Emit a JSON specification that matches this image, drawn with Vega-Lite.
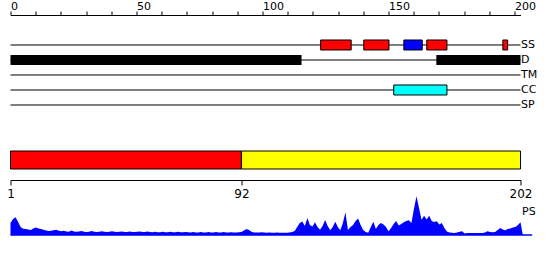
{
  "$schema": "https://vega.github.io/schema/vega-lite/v6.json",
  "autosize": {"type": "pad"},
  "padding": {"left": 6.5, "top": 0, "right": 0, "bottom": 0},
  "bounds": "flush",
  "spacing": 35,
  "resolve": {"scale": {"fill": "independent"}},
  "config": {
    "view": {"stroke": null},
    "axis": {"grid": false, "labelFont": "DejaVu Sans", "titleFont": "DejaVu Sans", "labelColor": "#000", "titleColor": "#000", "domainColor": "#000", "tickColor": "#000"}
  },
  "vconcat": [
    {
      "width": 510,
      "height": 100,
      "data": {"values": [
        {"track": "SS", "start": 0, "end": 202.4, "kind": "line"},
        {"track": "D", "start": 0, "end": 202.4, "kind": "line"},
        {"track": "TM", "start": 0, "end": 202.4, "kind": "line"},
        {"track": "CC", "start": 0, "end": 202.4, "kind": "line"},
        {"track": "SP", "start": 0, "end": 202.4, "kind": "line"},
        {"track": "D", "start": 0, "end": 115.5, "kind": "disorder"},
        {"track": "D", "start": 169, "end": 202.4, "kind": "disorder"},
        {"track": "SS", "start": 123.1, "end": 135.2, "kind": "helix"},
        {"track": "SS", "start": 140.2, "end": 150.2, "kind": "helix"},
        {"track": "SS", "start": 156.1, "end": 163.4, "kind": "strand"},
        {"track": "SS", "start": 165.2, "end": 173.2, "kind": "helix"},
        {"track": "SS", "start": 195.4, "end": 197.3, "kind": "helix"},
        {"track": "CC", "start": 152.1, "end": 173.2, "kind": "coil"}
      ]},
      "encoding": {
        "x": {"field": "start", "type": "quantitative", "scale": {"domain": [0, 202.4], "nice": false, "zero": false},
          "axis": {"orient": "top", "title": null, "values": [0,10,20,30,40,50,60,70,80,90,100,110,120,130,140,150,160,170,180,190,200],
            "labelExpr": "datum.value % 50 == 0 ? datum.label : ''", "labelAlign": "left", "labelPadding": 0, "tickSize": 4,
            "labelFlush": false, "labelOverlap": false, "labelFontSize": 11}},
        "x2": {"field": "end"},
        "y": {"field": "track", "type": "nominal",
          "scale": {"type": "band", "domain": ["SS", "D", "TM", "CC", "SP"], "paddingInner": 0.3333, "paddingOuter": 1, "align": 0.8333},
          "axis": {"orient": "right", "title": null, "domain": false, "ticks": false, "labelPadding": 0, "labelFontSize": 11, "labelAlign": "left"}}
      },
      "layer": [
        {
          "transform": [{"filter": "datum.kind == 'line'"}],
          "mark": {"type": "rule", "color": "#000", "strokeWidth": 1}
        },
        {
          "transform": [{"filter": "datum.kind == 'disorder'"}],
          "mark": {"type": "bar", "color": "#000"}
        },
        {
          "transform": [{"filter": "datum.kind != 'line' && datum.kind != 'disorder'"}],
          "mark": {"type": "bar", "stroke": "#000", "strokeWidth": 1},
          "encoding": {
            "fill": {"field": "kind", "type": "nominal", "scale": {"domain": ["helix", "strand", "coil"], "range": ["#ff0000", "#0000ff", "#00ffff"]}, "legend": null}
          }
        }
      ]
    },
    {
      "bounds": "flush",
      "spacing": 25,
      "resolve": {"scale": {"fill": "independent"}},
      "vconcat": [
        {
          "width": 510,
          "height": 20,
          "data": {"values": [
            {"start": 1, "end": 92, "seg": "N-terminal"},
            {"start": 92, "end": 202, "seg": "C-terminal"}
          ]},
          "mark": {"type": "bar", "stroke": "#000", "strokeWidth": 1},
          "encoding": {
            "x": {"field": "start", "type": "quantitative", "scale": {"domain": [1, 202], "nice": false, "zero": false},
              "axis": {"orient": "bottom", "title": null, "values": [1, 92, 202], "offset": 10, "tickSize": 5, "labelPadding": 3,
                "labelFlush": false, "labelOverlap": false, "labelFontSize": 12}},
            "x2": {"field": "end"},
            "fill": {"field": "seg", "type": "nominal", "scale": {"domain": ["N-terminal", "C-terminal"], "range": ["#ff0000", "#ffff00"]}, "legend": null}
          }
        },
        {
          "width": 510,
          "height": 40,
          "data": {"values": [
          {"pos": 1, "v": 12}, {"pos": 2, "v": 16}, {"pos": 3, "v": 17.7}, {"pos": 4, "v": 13}, {"pos": 5, "v": 8},
          {"pos": 6, "v": 6.3}, {"pos": 7, "v": 6}, {"pos": 8, "v": 5.5}, {"pos": 9, "v": 5}, {"pos": 10, "v": 6.5},
          {"pos": 11, "v": 7.5}, {"pos": 12, "v": 6.5}, {"pos": 13, "v": 6}, {"pos": 14, "v": 5.3}, {"pos": 15, "v": 4.5},
          {"pos": 16, "v": 4}, {"pos": 17, "v": 4.3}, {"pos": 18, "v": 4.8}, {"pos": 19, "v": 5.3}, {"pos": 20, "v": 4.3},
          {"pos": 21, "v": 3.8}, {"pos": 22, "v": 4.2}, {"pos": 23, "v": 3.5}, {"pos": 24, "v": 3.2}, {"pos": 25, "v": 4.5},
          {"pos": 26, "v": 3.5}, {"pos": 27, "v": 3.2}, {"pos": 28, "v": 3.4}, {"pos": 29, "v": 4}, {"pos": 30, "v": 3.2},
          {"pos": 31, "v": 3}, {"pos": 32, "v": 3.2}, {"pos": 33, "v": 4}, {"pos": 34, "v": 3.3}, {"pos": 35, "v": 3},
          {"pos": 36, "v": 3.3}, {"pos": 37, "v": 3.8}, {"pos": 38, "v": 3.2}, {"pos": 39, "v": 3}, {"pos": 40, "v": 3.2},
          {"pos": 41, "v": 3.8}, {"pos": 42, "v": 3.2}, {"pos": 43, "v": 3}, {"pos": 44, "v": 3.2}, {"pos": 45, "v": 3.6},
          {"pos": 46, "v": 3.1}, {"pos": 47, "v": 3}, {"pos": 48, "v": 3.5}, {"pos": 49, "v": 3.1}, {"pos": 50, "v": 3},
          {"pos": 51, "v": 3.2}, {"pos": 52, "v": 3.6}, {"pos": 53, "v": 3}, {"pos": 54, "v": 2.9}, {"pos": 55, "v": 3.4},
          {"pos": 56, "v": 2.9}, {"pos": 57, "v": 2.8}, {"pos": 58, "v": 3.2}, {"pos": 59, "v": 2.8}, {"pos": 60, "v": 2.8},
          {"pos": 61, "v": 3.3}, {"pos": 62, "v": 2.8}, {"pos": 63, "v": 2.7}, {"pos": 64, "v": 3.2}, {"pos": 65, "v": 2.8},
          {"pos": 66, "v": 2.7}, {"pos": 67, "v": 3.2}, {"pos": 68, "v": 2.7}, {"pos": 69, "v": 2.7}, {"pos": 70, "v": 3.1},
          {"pos": 71, "v": 2.7}, {"pos": 72, "v": 2.6}, {"pos": 73, "v": 3}, {"pos": 74, "v": 2.6}, {"pos": 75, "v": 2.6},
          {"pos": 76, "v": 3}, {"pos": 77, "v": 2.6}, {"pos": 78, "v": 2.6}, {"pos": 79, "v": 3}, {"pos": 80, "v": 2.6},
          {"pos": 81, "v": 2.6}, {"pos": 82, "v": 2.9}, {"pos": 83, "v": 2.5}, {"pos": 84, "v": 2.6}, {"pos": 85, "v": 3},
          {"pos": 86, "v": 2.6}, {"pos": 87, "v": 2.5}, {"pos": 88, "v": 2.8}, {"pos": 89, "v": 2.5}, {"pos": 90, "v": 2.6},
          {"pos": 91, "v": 2.8}, {"pos": 92, "v": 3}, {"pos": 93, "v": 4.5}, {"pos": 94, "v": 6}, {"pos": 95, "v": 5},
          {"pos": 96, "v": 3.2}, {"pos": 97, "v": 2.6}, {"pos": 98, "v": 2.4}, {"pos": 99, "v": 2.5}, {"pos": 100, "v": 2.7},
          {"pos": 101, "v": 2.4}, {"pos": 102, "v": 2.3}, {"pos": 103, "v": 2.5}, {"pos": 104, "v": 2.3}, {"pos": 105, "v": 2.2},
          {"pos": 106, "v": 2.4}, {"pos": 107, "v": 2.2}, {"pos": 108, "v": 2.2}, {"pos": 109, "v": 2.3}, {"pos": 110, "v": 2.2},
          {"pos": 111, "v": 2.5}, {"pos": 112, "v": 3}, {"pos": 113, "v": 4}, {"pos": 114, "v": 8}, {"pos": 115, "v": 12},
          {"pos": 116, "v": 13.5}, {"pos": 117, "v": 9}, {"pos": 118, "v": 17}, {"pos": 119, "v": 10}, {"pos": 120, "v": 8.5},
          {"pos": 121, "v": 12.7}, {"pos": 122, "v": 8}, {"pos": 123, "v": 5.3}, {"pos": 124, "v": 9}, {"pos": 125, "v": 15},
          {"pos": 126, "v": 9}, {"pos": 127, "v": 4.7}, {"pos": 128, "v": 8}, {"pos": 129, "v": 13.3}, {"pos": 130, "v": 8},
          {"pos": 131, "v": 4.7}, {"pos": 132, "v": 12}, {"pos": 133, "v": 22.7}, {"pos": 134, "v": 5}, {"pos": 135, "v": 8},
          {"pos": 136, "v": 10}, {"pos": 137, "v": 14}, {"pos": 138, "v": 16.5}, {"pos": 139, "v": 10}, {"pos": 140, "v": 5},
          {"pos": 141, "v": 3}, {"pos": 142, "v": 2.2}, {"pos": 143, "v": 8}, {"pos": 144, "v": 13.3}, {"pos": 145, "v": 6},
          {"pos": 146, "v": 10}, {"pos": 147, "v": 12}, {"pos": 148, "v": 10.5}, {"pos": 149, "v": 8}, {"pos": 150, "v": 3.8},
          {"pos": 151, "v": 7}, {"pos": 152, "v": 11}, {"pos": 153, "v": 14}, {"pos": 154, "v": 9.5}, {"pos": 155, "v": 11},
          {"pos": 156, "v": 12.7}, {"pos": 157, "v": 14}, {"pos": 158, "v": 14.7}, {"pos": 159, "v": 12}, {"pos": 160, "v": 26},
          {"pos": 161, "v": 38.7}, {"pos": 162, "v": 27}, {"pos": 163, "v": 15.3}, {"pos": 164, "v": 19.3}, {"pos": 165, "v": 15.5},
          {"pos": 166, "v": 19.3}, {"pos": 167, "v": 14}, {"pos": 168, "v": 13}, {"pos": 169, "v": 13.7}, {"pos": 170, "v": 10.5},
          {"pos": 171, "v": 12}, {"pos": 172, "v": 7}, {"pos": 173, "v": 3.5}, {"pos": 174, "v": 2.5}, {"pos": 175, "v": 2.2},
          {"pos": 176, "v": 2}, {"pos": 177, "v": 2.5}, {"pos": 178, "v": 3.2}, {"pos": 179, "v": 3.7}, {"pos": 180, "v": 1.5},
          {"pos": 181, "v": 2}, {"pos": 182, "v": 2}, {"pos": 183, "v": 2}, {"pos": 184, "v": 2}, {"pos": 185, "v": 2},
          {"pos": 186, "v": 2}, {"pos": 187, "v": 2}, {"pos": 188, "v": 2.5}, {"pos": 189, "v": 3.7}, {"pos": 190, "v": 3},
          {"pos": 191, "v": 2.7}, {"pos": 192, "v": 3}, {"pos": 193, "v": 5}, {"pos": 194, "v": 7}, {"pos": 195, "v": 5.5},
          {"pos": 196, "v": 4.7}, {"pos": 197, "v": 6}, {"pos": 198, "v": 6.5}, {"pos": 199, "v": 7.5}, {"pos": 200, "v": 8},
          {"pos": 201, "v": 10}, {"pos": 202, "v": 12.7}, {"pos": 202.9, "v": 0}
          ]},
          "layer": [
            {
              "mark": {"type": "area", "color": "#0000ff", "interpolate": "linear"},
              "encoding": {
                "x": {"field": "pos", "type": "quantitative", "scale": {"domain": [1, 202], "nice": false, "zero": false}, "axis": null},
                "y": {"field": "v", "type": "quantitative", "scale": {"domain": [0, 40], "nice": false},
                  "axis": {"orient": "right", "title": "PS", "labels": false, "ticks": false, "domain": false, "titleAngle": 0,
                    "titleAlign": "left", "titleBaseline": "middle", "titleX": 1, "titleY": 16, "titleFontWeight": "normal", "titleFontSize": 11}}
              }
            },
            {
              "data": {"values": [{"from": 1, "to": 206.6, "base": 0}]},
              "mark": {"type": "rule", "color": "#0000ff", "strokeWidth": 1.3},
              "encoding": {
                "x": {"field": "from", "type": "quantitative"},
                "x2": {"field": "to"},
                "y": {"field": "base", "type": "quantitative"}
              }
            }
          ]
        }
      ]
    }
  ]
}
